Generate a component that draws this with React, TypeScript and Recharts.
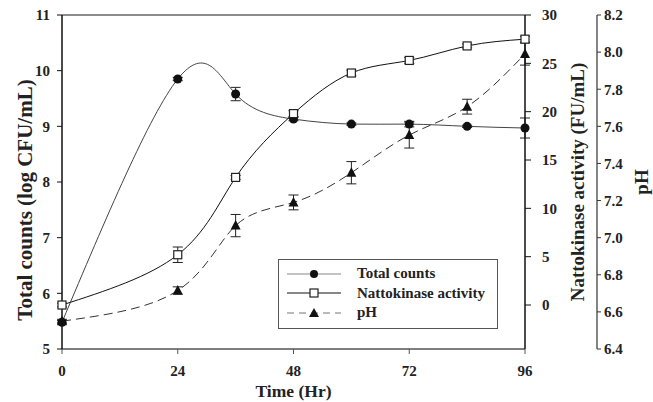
import React from "react";
import {
  ComposedChart,
  Line,
  XAxis,
  YAxis,
  ErrorBar,
  Legend,
  ReferenceLine,
} from "recharts";

// sampling times (hours)
const hours = [0, 24, 36, 48, 60, 72, 84, 96];

// Total counts, log CFU/mL (left axis)
const totalCounts = [5.48, 9.85, 9.58, 9.13, 9.04, 9.04, 9.0, 8.97];
const totalCountsErr = [0.03, 0.03, 0.12, 0.03, 0.02, 0.05, 0.02, 0.18];

// Nattokinase activity, FU/mL (first right axis)
const nattokinase = [0.0, 5.2, 13.2, 19.8, 24.0, 25.3, 26.8, 27.5];
const nattokinaseErr = [0.2, 0.8, 0.2, 0.3, 0.3, 0.3, 0.2, 0.3];

// pH (second right axis)
const ph = [6.55, 6.715, 7.065, 7.19, 7.35, 7.553, 7.706, 7.99];
const phErr = [0.01, 0.02, 0.06, 0.04, 0.06, 0.07, 0.04, 0.06];

const hourTicks = [0, 24, 48, 72, 96];
const countTicks = [5, 6, 7, 8, 9, 10, 11];
const activityTicks = [0, 5, 10, 15, 20, 25, 30];
const phTicks = [6.4, 6.6, 6.8, 7.0, 7.2, 7.4, 7.6, 7.8, 8.0, 8.2];

const data = hours.map((h, i) => ({
  hour: h,
  counts: totalCounts[i],
  countsErr: totalCountsErr[i],
  activity: nattokinase[i],
  activityErr: nattokinaseErr[i],
  ph: ph[i],
  phErr: phErr[i],
}));

const FONT = "'Liberation Serif', 'Times New Roman', serif";
const tickStyle = { fontFamily: FONT, fontWeight: 700, fontSize: 15, fill: "#222" };
const titleStyle = { fontFamily: FONT, fontWeight: 700, fontSize: 19, fill: "#222" };

const CircleDot = (props: any) => {
  const { cx, cy, index } = props;
  if (cx == null || cy == null) return <g key={`c-${index}`} />;
  return <circle key={`c-${index}`} cx={cx} cy={cy} r={4.5} fill="#111" />;
};

const SquareDot = (props: any) => {
  const { cx, cy, index } = props;
  if (cx == null || cy == null) return <g key={`s-${index}`} />;
  return (
    <rect
      key={`s-${index}`}
      x={cx - 4}
      y={cy - 4}
      width={8}
      height={8}
      fill="#fff"
      stroke="#222"
      strokeWidth={1.2}
    />
  );
};

const TriangleDot = (props: any) => {
  const { cx, cy, index } = props;
  if (cx == null || cy == null) return <g key={`t-${index}`} />;
  return (
    <path
      key={`t-${index}`}
      d={`M${cx},${cy - 5.5}L${cx + 5},${cy + 4}L${cx - 5},${cy + 4}Z`}
      fill="#111"
    />
  );
};

const legendRows = [
  { label: "Total counts", color: "#888", dash: undefined, marker: "circle" },
  { label: "Nattokinase activity", color: "#111", dash: undefined, marker: "square" },
  { label: "pH", color: "#777", dash: "7 5", marker: "triangle" },
];

const LegendBox = () => (
  <div
    style={{
      width: 220,
      height: 70,
      boxSizing: "border-box",
      border: "1.5px solid #555",
      background: "#fff",
      paddingTop: 4,
    }}
  >
    {legendRows.map((row) => (
      <div
        key={row.label}
        style={{ display: "flex", alignItems: "center", height: 19.5 }}
      >
        <svg width={56} height={14} style={{ marginLeft: 8 }}>
          <line
            x1={0}
            y1={7}
            x2={54}
            y2={7}
            stroke={row.color}
            strokeWidth={1.2}
            strokeDasharray={row.dash}
          />
          {row.marker === "circle" && <circle cx={27} cy={7} r={4} fill="#111" />}
          {row.marker === "square" && (
            <rect x={23} y={3} width={8} height={8} fill="#fff" stroke="#222" strokeWidth={1.2} />
          )}
          {row.marker === "triangle" && (
            <path d="M27,2L32,11L22,11Z" fill="#111" />
          )}
        </svg>
        <span
          style={{
            marginLeft: 14,
            fontFamily: FONT,
            fontWeight: 700,
            fontSize: 15,
            color: "#222",
          }}
        >
          {row.label}
        </span>
      </div>
    ))}
  </div>
);

export default function App() {
  return (
    <div style={{ position: "absolute", left: 0, top: 0, background: "#fff" }}>
      <ComposedChart
        width={653}
        height={402}
        data={data}
        margin={{ top: 15, right: 0, bottom: 0, left: 0 }}
      >
        <XAxis
          dataKey="hour"
          type="number"
          domain={[0, 96]}
          ticks={hourTicks}
          height={53}
          tickSize={5}
          tickMargin={11}
          tick={tickStyle}
          axisLine={{ stroke: "#555", strokeWidth: 1.5 }}
          tickLine={{ stroke: "#555" }}
          label={{
            value: "Time (Hr)",
            position: "center",
            dy: 15,
            style: { ...titleStyle, fontSize: 17.5 },
          }}
        />
        <YAxis
          yAxisId="counts"
          orientation="left"
          domain={[5, 11]}
          ticks={countTicks}
          width={62}
          tickSize={5}
          tickMargin={7}
          tick={tickStyle}
          axisLine={{ stroke: "#111", strokeWidth: 1.5 }}
          tickLine={{ stroke: "#111" }}
          label={{
            value: "Total counts (log CFU/mL)",
            angle: -90,
            position: "center",
            dx: -6,
            dy: 18,
            style: { ...titleStyle, fontSize: 21 },
          }}
        />
        <YAxis
          yAxisId="activity"
          orientation="right"
          domain={[-4.55, 30]}
          ticks={activityTicks}
          allowDataOverflow
          width={72}
          tickSize={6}
          tickMargin={11}
          tick={tickStyle}
          axisLine={{ stroke: "#111", strokeWidth: 1.5 }}
          tickLine={{ stroke: "#111" }}
          label={{
            value: "Nattokinase activity (FU/mL)",
            angle: -90,
            position: "center",
            dx: 16,
            style: titleStyle,
          }}
        />
        <YAxis
          yAxisId="ph"
          orientation="right"
          domain={[6.4, 8.2]}
          ticks={phTicks}
          allowDataOverflow
          width={56}
          tickSize={4}
          tickMargin={3}
          tick={tickStyle}
          tickFormatter={(v: number) => v.toFixed(1)}
          axisLine={{ stroke: "#333", strokeWidth: 1.2 }}
          tickLine={{ stroke: "#333" }}
          label={{
            value: "pH",
            angle: -90,
            position: "center",
            dx: 16,
            style: titleStyle,
          }}
        />
        <ReferenceLine yAxisId="counts" y={11} stroke="#666" strokeWidth={1.5} />

        <Line
          yAxisId="counts"
          dataKey="counts"
          type="natural"
          stroke="#444"
          strokeWidth={1}
          dot={CircleDot}
          activeDot={false}
          isAnimationActive={false}
        >
          <ErrorBar dataKey="countsErr" direction="y" width={5} stroke="#222" strokeWidth={1} />
        </Line>
        <Line
          yAxisId="ph"
          dataKey="ph"
          type="natural"
          stroke="#333"
          strokeWidth={1}
          strokeDasharray="9 5"
          dot={TriangleDot}
          activeDot={false}
          isAnimationActive={false}
        >
          <ErrorBar dataKey="phErr" direction="y" width={5} stroke="#222" strokeWidth={1} />
        </Line>
        <Line
          yAxisId="activity"
          dataKey="activity"
          type="natural"
          stroke="#111"
          strokeWidth={1}
          dot={SquareDot}
          activeDot={false}
          isAnimationActive={false}
        >
          <ErrorBar dataKey="activityErr" direction="y" width={5} stroke="#222" strokeWidth={1} />
        </Line>

        <Legend
          layout="horizontal"
          verticalAlign="middle"
          align="center"
          content={() => <LegendBox />}
          wrapperStyle={{ position: "absolute", left: 278, top: 259, width: 220, height: 70 }}
        />
      </ComposedChart>
    </div>
  );
}
